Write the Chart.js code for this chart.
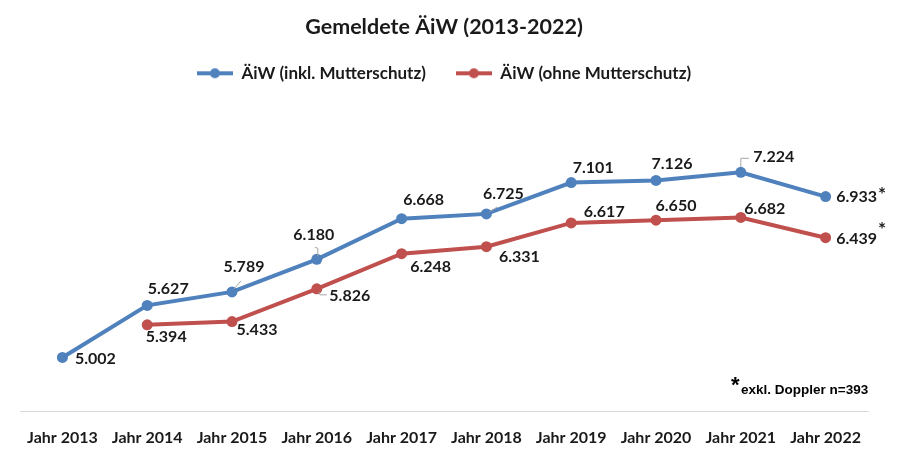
<!DOCTYPE html>
<html>
<head>
<meta charset="utf-8">
<script src="https://cdn.jsdelivr.net/npm/chart.js@4.4.1/dist/chart.umd.min.js"></script>
<style>
  html, body { margin: 0; padding: 0; background: #fff; }
  #wrap { width: 900px; height: 460px; position: relative; }
</style>
</head>
<body>
<div id="wrap"><canvas id="chart" width="900" height="460"></canvas></div>
<script>
const years = ["Jahr 2013", "Jahr 2014", "Jahr 2015", "Jahr 2016", "Jahr 2017",
  "Jahr 2018", "Jahr 2019", "Jahr 2020", "Jahr 2021", "Jahr 2022"];
const inklMutterschutz = [5002, 5627, 5789, 6180, 6668, 6725, 7101, 7126, 7224, 6933];
const ohneMutterschutz = [null, 5394, 5433, 5826, 6248, 6331, 6617, 6650, 6682, 6439];

const blue = "#4f81bd";
const red = "#c0504d";
const font = "Lato, 'Noto Sans', sans-serif";

// label offsets from the point (label centre), per series
const blueOffsets = [[33, 1], [21, -17], [12, -25], [-3, -24], [22, -19], [17, -20], [22, -15], [16, -17], [33, -15], [31, 0]];
const redOffsets = [null, [19, 12], [25, 8], [33, 7], [29, 13], [33, 10], [33, -11], [20, -14], [24, -9], [31, 1]];
const starDy = [-6, -13];
const starred = [9];

// small legend marker: line with a dot
function legendMarker(color) {
  const c = document.createElement("canvas");
  c.width = 36; c.height = 12;
  const g = c.getContext("2d");
  g.strokeStyle = color; g.lineWidth = 4;
  g.beginPath(); g.moveTo(0, 6); g.lineTo(36, 6); g.stroke();
  g.fillStyle = color;
  g.beginPath(); g.arc(18, 6, 5, 0, Math.PI * 2); g.fill();
  return c;
}

function fmt(v) {
  return (v / 1000).toFixed(3);
}

const labelPlugin = {
  id: "pointLabels",
  afterDatasetsDraw(chart) {
    const ctx = chart.ctx;
    ctx.save();

    // gray leader lines
    ctx.strokeStyle = "#a6a6a6";
    ctx.lineWidth = 1;
    const b = chart.getDatasetMeta(0).data;
    const r = chart.getDatasetMeta(1).data;
    ctx.beginPath();
    ctx.moveTo(b[2].x + 2, b[2].y - 3); ctx.lineTo(b[2].x + 9, b[2].y - 11);
    ctx.moveTo(b[3].x + 1, b[3].y - 3); ctx.lineTo(b[3].x + 1, b[3].y - 11); ctx.lineTo(b[3].x - 2, b[3].y - 12);
    ctx.moveTo(b[5].x + 3, b[5].y - 2); ctx.lineTo(b[5].x + 11, b[5].y - 7);
    ctx.moveTo(b[8].x, b[8].y - 5); ctx.lineTo(b[8].x, b[8].y - 14); ctx.lineTo(b[8].x + 8, b[8].y - 14);
    ctx.moveTo(r[3].x + 2, r[3].y + 3); ctx.lineTo(r[3].x + 3, r[3].y + 6); ctx.lineTo(r[3].x + 10, r[3].y + 6);
    ctx.stroke();

    ctx.font = "bold 16px " + font;
    ctx.fillStyle = "#1a1a1a";
    ctx.textAlign = "center";
    ctx.textBaseline = "middle";
    [blueOffsets, redOffsets].forEach((offs, di) => {
      const meta = chart.getDatasetMeta(di);
      const data = chart.data.datasets[di].data;
      meta.data.forEach((pt, i) => {
        if (data[i] == null || !offs[i]) return;
        const x = pt.x + offs[i][0], y = pt.y + offs[i][1];
        ctx.fillText(fmt(data[i]), x, y);
        if (starred.includes(i)) {
          const w = ctx.measureText(fmt(data[i])).width;
          ctx.save();
          ctx.font = "bold 19px " + font;
          ctx.fillText("*", x + w / 2 + 5, y + starDy[di] + 4);
          ctx.restore();
        }
      });
    });

    // footnote
    ctx.fillStyle = "#000";
    ctx.textAlign = "left";
    ctx.textBaseline = "alphabetic";
    ctx.font = "bold 22px 'Liberation Sans', Arial, sans-serif";
    ctx.fillText("*", 731, 392);
    ctx.font = "bold 13.5px 'Liberation Sans', Arial, sans-serif";
    ctx.fillText("exkl. Doppler n=393", 741, 394);
    ctx.restore();
  }
};

new Chart(document.getElementById("chart").getContext("2d"), {
  type: "line",
  data: {
    labels: years,
    datasets: [
      {
        label: "ÄiW (inkl. Mutterschutz)",
        data: inklMutterschutz,
        borderColor: blue,
        backgroundColor: blue,
        borderWidth: 4,
        pointRadius: 5.5,
        pointBorderWidth: 0,
        pointHoverRadius: 5.5,
        tension: 0
      },
      {
        label: "ÄiW (ohne Mutterschutz)",
        data: ohneMutterschutz,
        borderColor: red,
        backgroundColor: red,
        borderWidth: 4,
        pointRadius: 5.5,
        pointBorderWidth: 0,
        pointHoverRadius: 5.5,
        tension: 0
      }
    ]
  },
  options: {
    responsive: false,
    animation: false,
    events: [],
    layout: { padding: { left: 20, right: 32, top: 7, bottom: 5 } },
    plugins: {
      title: {
        display: true,
        text: "Gemeldete ÄiW (2013-2022)",
        color: "#1a1a1a",
        font: { family: font, size: 21.5, weight: "bold" },
        padding: { top: 7, bottom: -5 }
      },
      legend: {
        display: true,
        position: "top",
        labels: {
          usePointStyle: true,
          pointStyleWidth: 36,
          color: "#1a1a1a",
          font: { family: font, size: 17, weight: "bold" },
          padding: 30,
          generateLabels(chart) {
            return chart.data.datasets.map((ds, i) => ({
              text: ds.label,
              pointStyle: legendMarker(ds.borderColor),
              fillStyle: ds.borderColor,
              strokeStyle: ds.borderColor,
              lineWidth: 0,
              fontColor: "#1a1a1a",
              datasetIndex: i
            }));
          }
        }
      },
      tooltip: { enabled: false }
    },
    scales: {
      x: {
        offset: true,
        grid: { display: false },
        border: { display: true, color: "#d9d9d9", width: 1 },
        ticks: {
          color: "#1a1a1a",
          font: { family: font, size: 16, weight: "bold" },
          padding: 8,
          maxRotation: 0
        }
      },
      y: {
        display: false,
        min: 4350,
        max: 8190
      }
    }
  },
  plugins: [labelPlugin]
});
</script>
</body>
</html>
